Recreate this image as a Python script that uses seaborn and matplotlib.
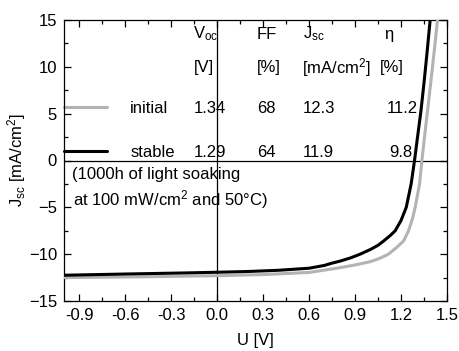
import matplotlib
matplotlib.use("Agg")
import matplotlib.pyplot as plt
from matplotlib.ticker import MultipleLocator
import seaborn as sns
import pandas as pd

# ---- data ----
v_stable = [-1.0, -0.6, -0.2, 0.0, 0.2, 0.4, 0.6, 0.7, 0.74, 0.8, 0.87, 0.933, 1.0, 1.05,
            1.086, 1.13, 1.162, 1.2, 1.234, 1.266, 1.288, 1.31, 1.33, 1.35, 1.372, 1.39, 1.40]
j_stable = [-12.25, -12.12, -12.0, -11.93, -11.85, -11.72, -11.5, -11.2, -11.0, -10.75,
            -10.4, -10.0, -9.5, -9.05, -8.6, -8.0, -7.5, -6.4, -5.0, -2.5, 0.0, 2.8, 5.3,
            8.3, 11.9, 15.0, 16.5]

v_initial = [-1.0, -0.5, 0.0, 0.3, 0.6, 0.78, 0.9, 1.0, 1.06, 1.118, 1.17, 1.216, 1.249,
             1.275, 1.292, 1.321, 1.336, 1.36, 1.38, 1.40, 1.42, 1.438, 1.45]
j_initial = [-12.5, -12.42, -12.3, -12.18, -11.95, -11.5, -11.15, -10.8, -10.45, -10.0,
             -9.3, -8.6, -7.5, -6.2, -5.0, -2.5, 0.0, 3.5, 6.3, 9.2, 12.2, 15.0, 17.0]

labels = ["initial", "stable"]
voc = ["1.34", "1.29"]
ff = ["68", "64"]
jsc = ["12.3", "11.9"]
eta = ["11.2", "9.8"]

df = pd.concat([
    pd.DataFrame({"U": v_initial, "J": j_initial, "state": "initial"}),
    pd.DataFrame({"U": v_stable, "J": j_stable, "state": "stable"}),
])

sns.set_style("ticks")
plt.rcParams["font.family"] = ["Liberation Sans", "DejaVu Sans"]
plt.rcParams["mathtext.fontset"] = "custom"
plt.rcParams["mathtext.rm"] = "Liberation Sans"
plt.rcParams["mathtext.it"] = "Liberation Sans:italic"
plt.rcParams["mathtext.default"] = "regular"
plt.rcParams["text.color"] = "black"
plt.rcParams["axes.labelcolor"] = "black"
plt.rcParams["xtick.color"] = "black"
plt.rcParams["ytick.color"] = "black"

fig = plt.figure(figsize=(4.59, 3.51), dpi=100)
ax = fig.add_axes([64 / 459, 1 - 301 / 351, 383 / 459, 281 / 351])

palette = {"initial": "#b3b3b3", "stable": "#000000"}
sns.lineplot(data=df, x="U", y="J", hue="state", palette=palette, linewidth=2.2,
             sort=False, estimator=None, legend=False, ax=ax, zorder=3,
             solid_joinstyle="round", solid_capstyle="round")

ax.axhline(0, color="black", lw=0.9, zorder=2)
ax.axvline(0, color="black", lw=0.9, zorder=2)

ax.set_xlim(-1.0, 1.5)
ax.set_ylim(-15, 15)
ax.set_xticks([-0.9, -0.6, -0.3, 0.0, 0.3, 0.6, 0.9, 1.2, 1.5])
ax.set_xticklabels(["-0.9", "-0.6", "-0.3", "0.0", "0.3", "0.6", "0.9", "1.2", "1.5"])
ax.xaxis.set_minor_locator(MultipleLocator(0.15))
ax.yaxis.set_major_locator(MultipleLocator(5))
ax.yaxis.set_minor_locator(MultipleLocator(2.5))
ax.tick_params(which="both", direction="in", top=True, right=True, labelsize=12,
               color="black", labelcolor="black", width=0.9)
ax.tick_params(which="major", length=5, pad=5)
ax.tick_params(which="minor", length=3)
for s in ax.spines.values():
    s.set_linewidth(0.9)
    s.set_color("black")

ax.set_xlabel("U [V]", fontsize=12, labelpad=7)
ax.set_ylabel("J$_{sc}$ [mA/cm$^2$]", fontsize=12, labelpad=0.5)

# legend-like table drawn inside the plot
fs = 12
ax.plot([-1.0, -0.72], [5.68, 5.68], color=palette["initial"], lw=2.2, clip_on=False)
ax.plot([-1.0, -0.72], [1.0, 1.0], color=palette["stable"], lw=2.2, clip_on=False)

row_y = [5.6, 0.85]
eta_x = [1.307, 1.275]
for i in range(2):
    y = row_y[i]
    ax.text(-0.568, y, labels[i], fontsize=fs, va="center", ha="left")
    ax.text(-0.155, y, voc[i], fontsize=fs, va="center", ha="left")
    ax.text(0.263, y, ff[i], fontsize=fs, va="center", ha="left")
    ax.text(0.559, y, jsc[i], fontsize=fs, va="center", ha="left")
    ax.text(eta_x[i], y, eta[i], fontsize=fs, va="center", ha="right")

ax.text(-0.155, 13.5, "V$_{oc}$", fontsize=fs, va="center", ha="left")
ax.text(0.255, 13.5, "FF", fontsize=fs, va="center", ha="left")
ax.text(0.563, 13.5, "J$_{sc}$", fontsize=fs, va="center", ha="left")
ax.text(1.09, 13.5, "η", fontsize=fs, va="center", ha="left")
ax.text(-0.155, 9.9, "[V]", fontsize=fs, va="center", ha="left")
ax.text(0.258, 9.9, "[%]", fontsize=fs, va="center", ha="left")
ax.text(0.556, 9.9, "[mA/cm$^2$]", fontsize=fs, va="center", ha="left")
ax.text(1.064, 9.9, "[%]", fontsize=fs, va="center", ha="left")

ax.text(-0.948, -1.45, "(1000h of light soaking", fontsize=fs, va="center", ha="left")
ax.text(-0.942, -4.2, "at 100 mW/cm$^2$ and 50°C)", fontsize=fs, va="center", ha="left")

fig.savefig("out.png", dpi=100)
